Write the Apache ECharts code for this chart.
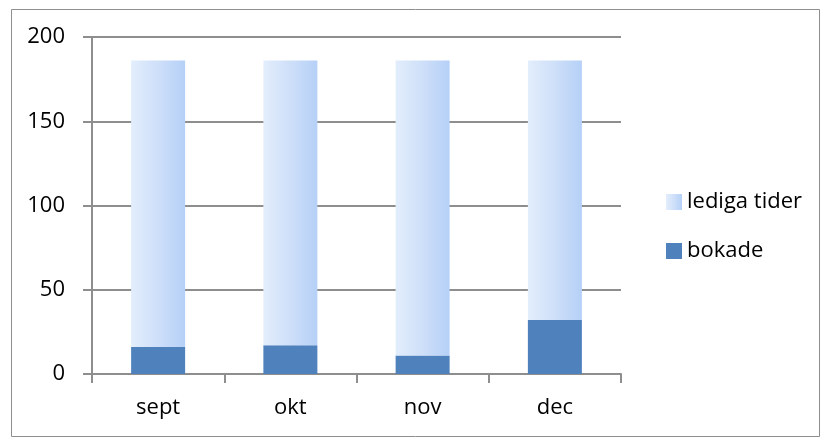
<!DOCTYPE html>
<html>
<head>
<meta charset="utf-8">
<script src="https://cdn.jsdelivr.net/npm/echarts@6/dist/echarts.min.js"></script>
<style>html,body{margin:0;padding:0;background:#fff}#c{width:820px;height:437px}</style>
</head>
<body>
<div id="c"></div>
<script>
var categories = ['sept', 'okt', 'nov', 'dec'];
var bokade = [16, 17, 11, 32];
var lediga = [170, 169, 175, 154];
var yTicks = [0, 50, 100, 150, 200];

var chart = echarts.init(document.getElementById('c'), null, {renderer: 'canvas'});
var font = 'Open Sans';
var gray = '#8E8E8E';
chart.setOption({
  animation: false,
  backgroundColor: '#fff',
  graphic: [{
    type: 'rect', left: 9, top: 7,
    shape: {width: 808, height: 427},
    style: {fill: 'none', stroke: '#8E8E8E', lineWidth: 1}
  }],
  grid: {left: 92, right: 199, top: 37, bottom: 63},
  legend: {
    orient: 'vertical', left: 661, top: 186,
    itemWidth: 16, itemHeight: 16, itemGap: 27,
    data: ['lediga tider', 'bokade'],
    textStyle: {fontFamily: font, fontSize: 22, color: '#000'},
    icon: 'rect'
  },
  xAxis: {
    type: 'category', data: categories,
    axisLine: {lineStyle: {color: gray, width: 2}},
    axisTick: {show: true, length: 9, lineStyle: {color: gray, width: 2}},
    axisLabel: {fontFamily: font, fontSize: 22, color: '#000', margin: 23}
  },
  yAxis: {
    type: 'value', min: yTicks[0], max: yTicks[yTicks.length - 1], interval: 50,
    axisLine: {show: true, lineStyle: {color: gray, width: 2}},
    axisTick: {show: true, length: 9, lineStyle: {color: gray, width: 2}},
    splitLine: {lineStyle: {color: gray, width: 2}},
    axisLabel: {fontFamily: font, fontSize: 22, color: '#000', margin: 27}
  },
  series: [{
    name: 'bokade', type: 'bar', stack: 't', barWidth: 54,
    data: bokade,
    itemStyle: {color: '#4F81BD'}
  }, {
    name: 'lediga tider', type: 'bar', stack: 't', barWidth: 54,
    data: lediga,
    itemStyle: {color: new echarts.graphic.LinearGradient(0, 0, 1, 0, [
      {offset: 0, color: '#E3EEFC'},
      {offset: 0.5, color: '#CEDFF9'},
      {offset: 1, color: '#B5D0F7'}
    ])}
  }]
});
</script>
</body>
</html>
